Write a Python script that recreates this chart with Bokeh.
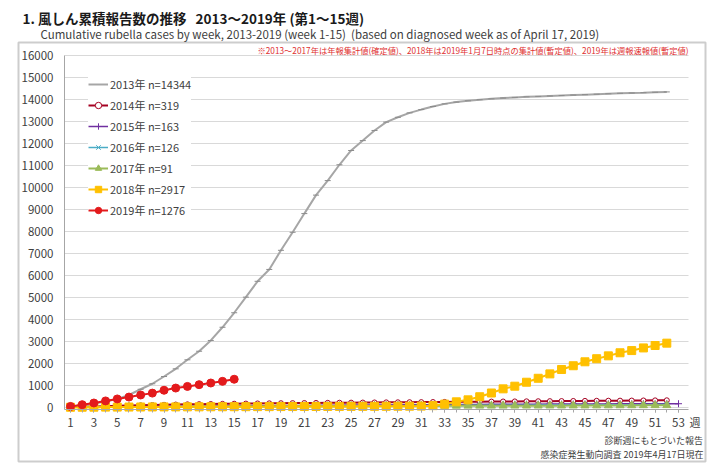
from bokeh.plotting import figure
from bokeh.models import Label, BoxAnnotation, FixedTicker, Legend, LegendItem, Range1d
from bokeh.embed import file_html
from bokeh.resources import INLINE

# ---------------- data ----------------
weeks52 = list(range(1, 53))
weeks53 = list(range(1, 54))
x_tick_labels = list(range(1, 54, 2))
y_ticks = list(range(0, 16001, 1000))

cases_2013 = [30, 90, 170, 260, 380, 560, 820, 1070, 1400, 1750, 2160, 2550, 3040, 3640, 4300,
              5010, 5730, 6270, 7140, 7960, 8810, 9650, 10310, 11030, 11680, 12130, 12590, 12970,
              13190, 13390, 13540, 13680, 13800, 13880, 13940, 13990, 14030, 14065, 14095, 14120,
              14140, 14160, 14180, 14200, 14220, 14240, 14260, 14280, 14295, 14310, 14328, 14344]
cases_2014 = [5, 20, 35, 50, 65, 78, 90, 102, 114, 125, 135, 143, 150, 157, 163, 169, 175, 181,
              186, 191, 196, 200, 204, 208, 212, 216, 220, 224, 228, 232, 236, 240, 244, 248, 252,
              256, 260, 264, 268, 272, 276, 280, 284, 288, 292, 296, 300, 303, 307, 311, 315, 319]
cases_2015 = [3, 8, 13, 18, 22, 27, 31, 35, 39, 43, 47, 51, 55, 59, 63, 67, 71, 75, 79, 83, 87,
              90, 93, 96, 99, 102, 105, 108, 111, 114, 117, 120, 123, 126, 129, 132, 135, 137,
              139, 141, 143, 145, 147, 149, 151, 153, 155, 157, 158, 159, 160, 162, 163]
cases_2016 = [2, 5, 8, 11, 14, 17, 20, 23, 26, 29, 32, 35, 38, 41, 44, 47, 50, 53, 56, 58, 60,
              62, 64, 66, 68, 70, 72, 74, 76, 78, 80, 82, 84, 86, 88, 90, 92, 94, 96, 98, 100,
              102, 104, 106, 108, 110, 112, 114, 117, 120, 123, 126]
cases_2017 = [2, 4, 7, 9, 11, 13, 15, 17, 19, 21, 23, 25, 27, 29, 31, 33, 35, 37, 39, 41, 43,
              45, 47, 49, 51, 53, 55, 57, 59, 61, 62, 64, 65, 67, 68, 69, 70, 71, 72, 73, 74,
              75, 76, 77, 78, 80, 82, 84, 86, 88, 90, 91]
cases_2018 = [2, 4, 6, 8, 10, 12, 14, 16, 18, 19, 21, 22, 24, 25, 27, 28, 30, 31, 33, 34, 35,
              37, 38, 40, 41, 43, 44, 46, 48, 50, 55, 75, 145, 250, 340, 480, 650, 840, 960,
              1140, 1320, 1520, 1720, 1890, 2070, 2210, 2340, 2480, 2580, 2700, 2810, 2917]
weeks_2019 = list(range(1, 16))
cases_2019 = [40, 120, 195, 290, 380, 465, 560, 645, 775, 875, 950, 1030, 1105, 1180, 1276]

labels = ["2013年 n=14344", "2014年 n=319", "2015年 n=163", "2016年 n=126",
          "2017年 n=91", "2018年 n=2917", "2019年 n=1276"]

FONT = "Noto Sans CJK JP"
NB = "\u00a0"

# ---------------- geometry: frame covers the whole canvas ----------------
W, H = 712, 465
PX_W1, PX_W53 = 70.0, 678.0        # pixel of week 1 / week 53
PY_0, PY_16K = 406.8, 55.0         # pixel of 0 / 16000
sx = (PX_W53 - PX_W1) / 52.0
sy = (PY_0 - PY_16K) / 16000.0
X0 = 1 - PX_W1 / sx
X1 = 1 + (W - PX_W1) / sx
Y1 = (PY_0 - 0) / sy
Y0 = -(H - PY_0) / sy


def px2x(px):
    return X0 + px / sx


def py2y(py):
    return (PY_0 - py) / sy


AX_LEFT = px2x(64)
AX_RIGHT = px2x(688)
AX_BOTTOM = py2y(409)

p = figure(width=W, height=H, output_backend="svg", toolbar_location=None,
           x_range=Range1d(X0, X1), y_range=Range1d(Y0, Y1),
           min_border_left=0, min_border_right=0, min_border_top=0, min_border_bottom=0)
p.outline_line_color = None
p.background_fill_color = "white"
p.border_fill_color = "white"
p.xgrid.grid_line_color = None
p.ygrid.grid_line_color = "#D9D9D9"
p.ygrid.grid_line_width = 1
p.ygrid.cross_bounds = (AX_LEFT, AX_RIGHT)
p.yaxis.ticker = FixedTicker(ticks=y_ticks)
p.ygrid.ticker = FixedTicker(ticks=y_ticks)
p.xaxis.ticker = FixedTicker(ticks=x_tick_labels, minor_ticks=weeks53)
p.yaxis.fixed_location = AX_LEFT
p.xaxis.fixed_location = AX_BOTTOM
p.yaxis.bounds = (AX_BOTTOM, 16000)
p.xaxis.bounds = (AX_LEFT, AX_RIGHT)
for ax in (p.xaxis[0], p.yaxis[0]):
    ax.major_label_text_font = FONT
    ax.major_label_text_font_size = "11.5px"
    ax.major_label_text_color = "#404040"
    ax.axis_line_color = "#A6A6A6"
    ax.major_tick_line_color = "#A6A6A6"
    ax.minor_tick_line_color = "#A6A6A6"
p.yaxis.major_tick_out = 0
p.yaxis.major_tick_in = 0
p.yaxis.minor_tick_out = 0
p.yaxis.major_label_standoff = 11
p.xaxis.major_tick_out = 3
p.xaxis.major_tick_in = 0
p.xaxis.minor_tick_out = 3
p.xaxis.minor_tick_in = 0
p.xaxis.major_label_standoff = 5

# outer box
p.add_layout(BoxAnnotation(left=px2x(18), right=px2x(705), top=py2y(42), bottom=py2y(461),
                           fill_color=None, fill_alpha=0, line_color="#595959", line_width=2,
                           level="underlay"))

items = []
r = p.line(weeks52, cases_2013, line_color="#A6A6A6", line_width=2)
m = p.scatter(weeks52, cases_2013, marker="dash", size=6, line_color="#8C8C8C", line_width=1)
items.append(LegendItem(label=labels[0], renderers=[r]))

r = p.line(weeks52, cases_2014, line_color="#A50021", line_width=2)
m = p.scatter(weeks52, cases_2014, marker="circle", size=5, line_color="#A50021",
              fill_color="white", line_width=1)
items.append(LegendItem(label=labels[1], renderers=[r, m]))

r = p.line(weeks53, cases_2015, line_color="#7030A0", line_width=1.5)
m = p.scatter(weeks53, cases_2015, marker="cross", size=7, line_color="#7030A0", line_width=1)
items.append(LegendItem(label=labels[2], renderers=[r, m]))

r = p.line(weeks52, cases_2016, line_color="#4BACC6", line_width=1.5)
m = p.scatter(weeks52, cases_2016, marker="x", size=7, line_color="#4BACC6", line_width=1)
items.append(LegendItem(label=labels[3], renderers=[r, m]))

r = p.line(weeks52, cases_2017, line_color="#9BBB59", line_width=2)
m = p.scatter(weeks52, cases_2017, marker="triangle", size=8, line_color="#9BBB59",
              fill_color="#9BBB59")
items.append(LegendItem(label=labels[4], renderers=[r, m]))

r = p.line(weeks52, cases_2018, line_color="#FFC000", line_width=2)
m = p.scatter(weeks52, cases_2018, marker="square", size=8, line_color="#FFC000",
              fill_color="#FFC000")
items.append(LegendItem(label=labels[5], renderers=[r, m]))

r = p.line(weeks_2019, cases_2019, line_color="#E31A1C", line_width=2)
m = p.scatter(weeks_2019, cases_2019, marker="circle", size=8, line_color="#E31A1C",
              fill_color="#E31A1C")
items.append(LegendItem(label=labels[6], renderers=[r, m]))

legend = Legend(items=items, location=(88, H - 218), padding=4, spacing=5,
                glyph_width=20, glyph_height=16, label_height=16, label_standoff=2,
                label_text_font=FONT, label_text_font_size="11px", label_text_color="#404040",
                border_line_color=None, background_fill_color="white", background_fill_alpha=1.0)
p.add_layout(legend)


def lab(text, px, py, size, color="#404040", align="left", style="normal"):
    p.add_layout(Label(x=px2x(px), y=py2y(py), text=text, text_font=FONT,
                       text_font_size=size, text_color=color, text_align=align,
                       text_baseline="middle", text_font_style=style))


lab("1. 風しん累積報告数の推移" + NB * 3 + "2013～2019年 (第1～15週)", 22, 17, "13.5px", "#1A1A1A",
    style="bold")
lab("Cumulative rubella cases by week, 2013-2019 (week 1-15)" + NB * 2 +
    "(based on diagnosed week as of April 17, 2019)", 40, 33, "11.5px", "#404040")
lab("※2013～2017年は年報集計値(確定値)、2018年は2019年1月7日時点の集計値(暫定値)、2019年は週報速報値(暫定値)",
    688, 49, "8.25px", "#E03030", align="right")
lab("週", 689, 421, "11px", "#404040")
lab("診断週にもとづいた報告", 703, 440, "9px", "#404040", align="right")
lab("感染症発生動向調査 2019年4月17日現在", 703, 454, "9px", "#404040", align="right")

open("out.html", "w").write(file_html(p, INLINE))
